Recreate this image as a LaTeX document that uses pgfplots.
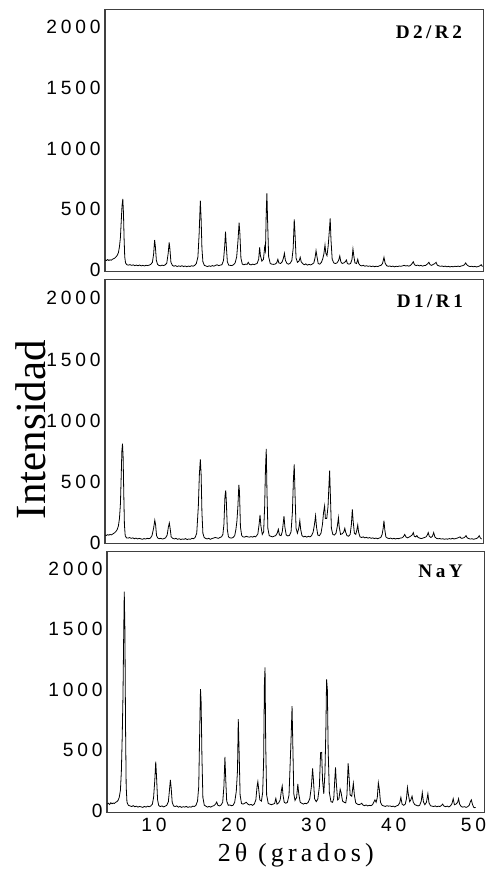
\documentclass[border=0pt]{standalone}
\usepackage{fontspec}
\setmainfont{Liberation Serif}
\newfontfamily\tickfont[LetterSpace=20]{Liberation Sans}
\newfontfamily\labfont[LetterSpace=16]{Liberation Serif}
\newfontfamily\panfont[LetterSpace=18]{Liberation Serif}
\usepackage{pgfplots}
\pgfplotsset{compat=1.18}
\pgfplotsset{xrdpanel/.style={
  scale only axis, anchor=south west,
  axis line style={draw=black!75, line width=0.6pt},
  major tick length=0pt, tick style={draw=none},
  ytick={0,500,1000,1500,2000},
  xtick={10,20,30,40,50},
  /pgf/number format/assume math mode=true,
  /pgf/number format/1000 sep={},
  yticklabel style={font=\fontsize{9.6}{10}\tickfont, anchor=east, inner sep=0pt, xshift=-2pt},
  xticklabel style={font=\fontsize{9.6}{10}\tickfont, anchor=north, inner sep=0pt, yshift=-2.5pt},
  cycle list={{black, line width=0.7pt, mark=none}},
}}
\begin{document}
\begin{tikzpicture}
\useasboundingbox (0,0) rectangle (243.5pt,436pt);
% ---------------- D2/R2 ----------------
\begin{axis}[xrdpanel, at={(52.5pt,300.15pt)}, width=189.15pt, height=131pt,
  xmin=3.87, xmax=51.21, ymin=-12, ymax=2140, xticklabels={}]
\addplot coordinates {
(3.9,84)(4.05,80)(4.2,88)(4.35,80)(4.5,86)(4.65,82)(4.8,90)(4.95,95)(5.1,100)(5.25,110)(5.4,122)(5.55,145)(5.68,193)(5.8,270)(5.9,400)(6.0,530)(6.1,585)(6.18,470)(6.26,260)(6.34,110)(6.44,60)(6.6,45)(6.8,42)(7.0,46)(7.2,40)(7.4,44)(7.6,38)(7.8,42)(8.0,37)(8.2,43)(8.4,36)(8.6,40)(8.8,35)(9.0,41)(9.2,38)(9.4,42)(9.6,48)(9.8,65)(9.95,130)(10.08,248)(10.18,190)(10.3,80)(10.45,48)(10.6,40)(10.8,36)(11.0,42)(11.2,38)(11.4,44)(11.6,58)(11.78,140)(11.9,229)(12.0,170)(12.12,65)(12.3,40)(12.5,33)(12.7,38)(12.9,30)(13.1,36)(13.3,31)(13.5,37)(13.7,30)(13.9,35)(14.1,29)(14.3,34)(14.5,31)(14.7,37)(14.9,33)(15.1,40)(15.3,55)(15.5,110)(15.65,300)(15.8,571)(15.9,420)(16.0,180)(16.12,70)(16.3,40)(16.5,35)(16.7,30)(16.9,36)(17.1,32)(17.3,38)(17.5,33)(17.7,40)(17.9,45)(18.1,38)(18.3,42)(18.5,45)(18.7,80)(18.85,200)(18.95,316)(19.05,200)(19.18,70)(19.35,42)(19.55,40)(19.75,38)(19.95,45)(20.15,60)(20.35,110)(20.52,250)(20.65,390)(20.75,300)(20.88,100)(21.05,50)(21.25,45)(21.45,50)(21.65,48)(21.8,65)(21.95,48)(22.15,44)(22.35,50)(22.55,46)(22.75,52)
(22.9,55)(23.1,90)(23.22,188)(23.32,120)(23.5,75)(23.7,90)(23.85,190)(23.95,160)(24.05,480)(24.13,632)(24.22,400)(24.35,110)(24.55,55)(24.75,50)(24.95,48)(25.15,50)(25.35,60)(25.5,90)(25.62,60)(25.85,55)(26.05,70)(26.2,100)(26.32,139)(26.45,80)(26.65,55)(26.85,50)(27.05,58)(27.25,80)(27.42,180)(27.55,418)(27.65,300)(27.78,100)(27.95,65)(28.15,75)(28.3,106)(28.42,70)(28.6,55)(28.8,45)(29.0,52)(29.2,42)(29.4,48)(29.6,44)(29.8,50)(30.0,60)(30.15,100)(30.28,160)(30.4,110)(30.55,55)(30.75,50)(30.95,65)(31.1,90)(31.25,130)(31.4,207)(31.5,140)(31.65,120)(31.8,200)(31.95,330)(32.05,426)(32.15,250)(32.3,90)(32.5,60)(32.7,55)(32.9,60)(33.1,80)(33.25,117)(33.38,70)(33.55,55)(33.75,60)(33.95,70)(34.08,84)(34.2,55)(34.4,50)(34.6,55)(34.78,90)(34.9,174)(35.0,120)(35.15,60)(35.35,55)(35.5,90)(35.62,55)(35.8,40)(36.0,36)(36.2,40)(36.4,33)(36.6,37)(36.8,32)(37.0,35)(37.2,30)(37.4,34)(37.6,29)(37.8,33)(38.0,30)(38.2,36)(38.4,40)(38.6,55)(38.78,106)(38.92,60)(39.1,38)(39.3,32)(39.5,35)(39.7,30)(39.9,34)(40.1,28)(40.3,33)(40.5,30)(40.7,35)(40.9,32)(41.1,36)(41.3,40)(41.5,35)(41.7,38)(41.9,33)(42.1,40)(42.3,55)(42.45,70)(42.6,45)(42.8,38)(43.0,42)(43.2,36)(43.4,40)(43.6,34)(43.8,38)(44.0,40)(44.2,50)(44.4,65)(44.55,45)(44.75,40)(44.95,48)(45.15,55)(45.3,65)(45.45,42)(45.65,36)(45.85,32)(46.05,35)(46.25,30)(46.45,34)(46.65,28)(46.85,32)(47.05,27)(47.25,31)(47.45,28)(47.65,33)(47.85,30)(48.05,34)(48.25,30)(48.45,35)(48.65,38)(48.85,45)(49.0,60)(49.15,45)(49.35,35)(49.55,30)(49.75,33)(49.95,28)(50.15,32)(50.35,27)(50.55,30)(50.75,35)(50.95,45)(51.1,30)
};
\node[anchor=north east, inner sep=0pt, font=\fontsize{9.6}{10}\panfont\bfseries, xshift=-10.5pt, yshift=-8pt] at (rel axis cs:1,1) {D2/R2};
\end{axis}
% ---------------- D1/R1 ----------------
\begin{axis}[xrdpanel, at={(52.5pt,164.35pt)}, width=189.15pt, height=131.9pt,
  xmin=3.87, xmax=51.21, ymin=-2.5, ymax=2153, xticklabels={}]
\addplot coordinates {
(3.9,65)(4.05,62)(4.2,68)(4.35,64)(4.5,70)(4.65,66)(4.8,72)(4.95,78)(5.1,85)(5.25,95)(5.4,110)(5.55,140)(5.68,200)(5.8,320)(5.9,550)(5.98,750)(6.06,811)(6.14,700)(6.22,400)(6.3,150)(6.4,60)(6.55,42)(6.75,40)(6.95,44)(7.15,38)(7.35,42)(7.55,35)(7.75,40)(7.95,33)(8.15,38)(8.35,34)(8.55,30)(8.75,36)(8.95,32)(9.15,38)(9.35,35)(9.55,40)(9.75,60)(9.95,120)(10.1,185)(10.2,150)(10.32,60)(10.48,40)(10.65,35)(10.85,38)(11.05,32)(11.25,36)(11.45,42)(11.65,65)(11.8,130)(11.92,163)(12.02,120)(12.15,50)(12.35,38)(12.55,33)(12.75,38)(12.95,30)(13.15,35)(13.35,28)(13.55,33)(13.75,30)(13.95,36)(14.15,28)(14.35,33)(14.55,30)(14.75,38)(14.95,35)(15.15,45)(15.35,80)(15.55,300)(15.68,560)(15.8,683)(15.9,560)(16.0,250)(16.12,80)(16.28,45)(16.45,38)(16.65,33)(16.85,38)(17.05,30)(17.25,36)(17.45,40)(17.65,45)(17.85,42)(18.05,38)(18.25,45)(18.45,50)(18.62,70)(18.75,150)(18.88,380)(18.98,430)(19.06,330)(19.18,110)(19.32,50)(19.5,42)(19.7,40)(19.9,45)(20.1,60)(20.25,110)(20.38,180)(20.5,300)(20.62,474)(20.7,420)(20.82,130)(20.98,60)(21.15,50)(21.35,48)(21.55,55)(21.75,50)(21.95,48)(22.15,52)(22.35,48)(22.55,55)(22.7,50)
(22.85,60)(23.0,75)(23.15,150)(23.27,229)(23.38,140)(23.55,70)(23.72,90)(23.85,300)(23.95,600)(24.05,768)(24.13,450)(24.25,120)(24.42,60)(24.62,55)(24.82,50)(25.02,55)(25.22,60)(25.42,80)(25.56,112)(25.7,65)(25.9,60)(26.05,90)(26.17,160)(26.27,220)(26.38,130)(26.55,65)(26.75,58)(26.95,62)(27.15,90)(27.32,250)(27.45,520)(27.55,643)(27.65,400)(27.78,120)(27.95,80)(28.12,120)(28.25,182)(28.36,110)(28.52,60)(28.72,50)(28.92,55)(29.12,48)(29.32,55)(29.52,50)(29.72,60)(29.92,90)(30.08,150)(30.22,223)(30.34,130)(30.5,65)(30.7,60)(30.9,80)(31.08,150)(31.22,250)(31.35,302)(31.45,200)(31.62,200)(31.78,300)(31.9,480)(31.98,591)(32.07,400)(32.2,120)(32.38,70)(32.58,65)(32.78,80)(32.95,140)(33.08,207)(33.18,130)(33.35,70)(33.55,75)(33.75,90)(33.88,120)(33.98,90)(34.15,60)(34.35,55)(34.55,70)(34.7,150)(34.82,275)(34.92,180)(35.08,80)(35.25,70)(35.4,110)(35.5,147)(35.6,90)(35.78,50)(35.98,45)(36.18,50)(36.38,42)(36.58,46)(36.78,40)(36.98,44)(37.18,38)(37.38,42)(37.58,36)(37.78,40)(37.98,35)(38.18,40)(38.38,45)(38.55,70)(38.68,120)(38.78,182)(38.88,110)(39.02,50)(39.22,40)(39.42,36)(39.62,40)(39.82,34)(40.02,38)(40.22,33)(40.42,37)(40.62,35)(40.82,40)(41.02,42)(41.2,50)(41.38,70)(41.52,50)(41.72,42)(41.92,48)(42.1,55)(42.3,65)(42.45,85)(42.58,55)(42.75,50)(42.9,60)(43.05,45)(43.25,40)(43.45,36)(43.65,40)(43.85,45)(44.05,50)(44.2,65)(44.32,85)(44.45,55)(44.65,45)(44.85,55)(45.0,85)(45.15,50)(45.35,38)(45.55,34)(45.75,37)(45.95,32)(46.15,35)(46.35,30)(46.55,34)(46.75,31)(46.95,36)(47.15,32)(47.35,38)(47.55,33)(47.75,36)(47.95,40)(48.15,45)(48.3,50)(48.45,38)(48.65,40)(48.85,45)(49.05,60)(49.2,42)(49.4,36)(49.6,32)(49.8,35)(50.0,30)(50.2,34)(50.4,38)(50.55,45)(50.7,60)(50.85,40)(51.0,32)
};
\node[anchor=north east, inner sep=0pt, font=\fontsize{9.6}{10}\panfont\bfseries, xshift=-10pt, yshift=-7.6pt] at (rel axis cs:1,1) {D1/R1};
\end{axis}
% ---------------- NaY ----------------
\begin{axis}[xrdpanel, at={(53.5pt,29.65pt)}, width=188.65pt, height=130.5pt,
  xmin=4.12, xmax=51.34, ymin=-16, ymax=2140]
\addplot coordinates {
(4.15,55)(4.3,62)(4.45,52)(4.6,66)(4.75,58)(4.9,64)(5.05,60)(5.2,70)(5.35,75)(5.5,85)(5.65,110)(5.8,170)(5.92,330)(6.02,600)(6.12,950)(6.2,1400)(6.28,1810)(6.36,1500)(6.44,700)(6.52,200)(6.62,70)(6.8,45)(7.0,40)(7.2,35)(7.4,42)(7.6,33)(7.8,38)(8.0,30)(8.2,36)(8.4,32)(8.6,28)(8.8,36)(9.0,30)(9.2,38)(9.4,33)(9.6,40)(9.8,55)(9.95,110)(10.1,250)(10.22,406)(10.32,280)(10.45,90)(10.6,42)(10.8,35)(11.0,40)(11.2,32)(11.4,38)(11.6,45)(11.8,75)(11.95,180)(12.05,255)(12.15,190)(12.28,70)(12.45,40)(12.65,35)(12.85,40)(13.05,30)(13.25,36)(13.45,28)(13.65,34)(13.85,30)(14.05,36)(14.25,28)(14.45,33)(14.65,30)(14.85,38)(15.05,35)(15.25,45)(15.45,80)(15.6,200)(15.72,650)(15.82,1004)(15.9,900)(16.0,450)(16.12,110)(16.3,45)(16.5,38)(16.7,30)(16.9,36)(17.1,30)(17.3,38)(17.5,42)(17.7,55)(17.85,72)(18.0,45)(18.2,40)(18.4,48)(18.6,70)(18.75,200)(18.88,444)(18.98,260)(19.1,80)(19.3,45)(19.5,48)(19.7,42)(19.9,45)(20.1,70)(20.3,160)(20.45,330)(20.55,757)(20.65,500)(20.78,130)(20.95,60)(21.15,55)(21.35,62)(21.55,70)(21.75,55)(21.95,48)(22.15,52)(22.35,45)(22.55,55)(22.75,90)(22.9,200)(23.0,240)(23.1,180)(23.25,90)(23.45,80)(23.6,150)(23.72,400)(23.82,1050)(23.9,1185)(23.98,560)(24.1,130)(24.3,60)(24.5,55)(24.7,50)(24.9,55)(25.1,60)(25.25,102)(25.4,55)(25.6,65)(25.8,90)(25.95,170)(26.05,204)(26.15,130)(26.3,70)(26.5,62)(26.7,70)(26.9,130)(27.05,400)(27.18,640)(27.28,864)(27.38,530)(27.5,140)(27.65,85)(27.85,110)(28.0,221)(28.12,140)(28.3,70)(28.5,62)(28.7,55)(28.9,62)(29.1,58)(29.3,70)(29.5,100)(29.7,200)(29.85,350)(29.95,260)(30.1,100)(30.3,75)(30.5,95)(30.7,200)(30.85,480)(30.98,482)(31.1,250)(31.25,140)(31.4,320)(31.52,700)(31.6,1086)(31.7,1000)(31.8,500)(31.95,150)(32.15,75)(32.35,70)(32.5,100)(32.62,250)(32.72,358)(32.82,230)(32.98,90)(33.15,100)(33.3,177)(33.42,150)(33.6,80)(33.8,70)(34.0,65)(34.15,130)(34.3,392)(34.4,300)(34.55,130)(34.75,120)(34.95,226)(35.08,130)(35.25,65)(35.45,55)(35.65,50)(35.85,55)(36.0,62)(36.15,48)(36.35,42)(36.55,48)(36.75,40)(36.95,45)(37.15,42)(37.35,50)(37.5,70)(37.65,90)(37.8,70)(37.95,110)(38.08,231)(38.2,180)(38.35,70)(38.55,45)(38.75,40)(38.95,36)(39.15,42)(39.35,38)(39.55,40)(39.75,35)(39.95,38)(40.15,32)(40.35,40)(40.55,45)(40.75,65)(40.9,110)(41.05,55)(41.25,45)(41.45,55)(41.6,100)(41.72,192)(41.85,130)(42.0,75)(42.15,90)(42.3,120)(42.45,70)(42.65,50)(42.85,45)(43.05,40)(43.25,45)(43.45,80)(43.58,150)(43.72,75)(43.9,50)(44.1,70)(44.28,140)(44.42,65)(44.6,42)(44.8,38)(45.0,35)(45.2,40)(45.4,33)(45.6,38)(45.8,35)(46.0,45)(46.12,55)(46.3,38)(46.5,34)(46.7,38)(46.9,32)(47.1,40)(47.3,60)(47.45,100)(47.6,50)(47.8,55)(48.0,70)(48.12,100)(48.25,55)(48.45,35)(48.65,30)(48.85,34)(49.05,28)(49.25,33)(49.45,45)(49.6,75)(49.72,90)(49.85,55)(50.0,30)(50.15,25)(50.25,28)
};
\node[anchor=north east, inner sep=0pt, font=\fontsize{9.6}{10}\panfont\bfseries, xshift=-10.6pt, yshift=-6.5pt] at (rel axis cs:1,1) {NaY};
\end{axis}
\node[rotate=90, anchor=base, inner sep=0pt, font=\fontsize{21.5}{24}\selectfont] at (22.5pt,221.25pt) {Intensidad};
\node[anchor=base, inner sep=0pt, font=\fontsize{13}{14}\labfont] at (147.9pt,5.15pt) {2θ (grados)};
\end{tikzpicture}
\end{document}
